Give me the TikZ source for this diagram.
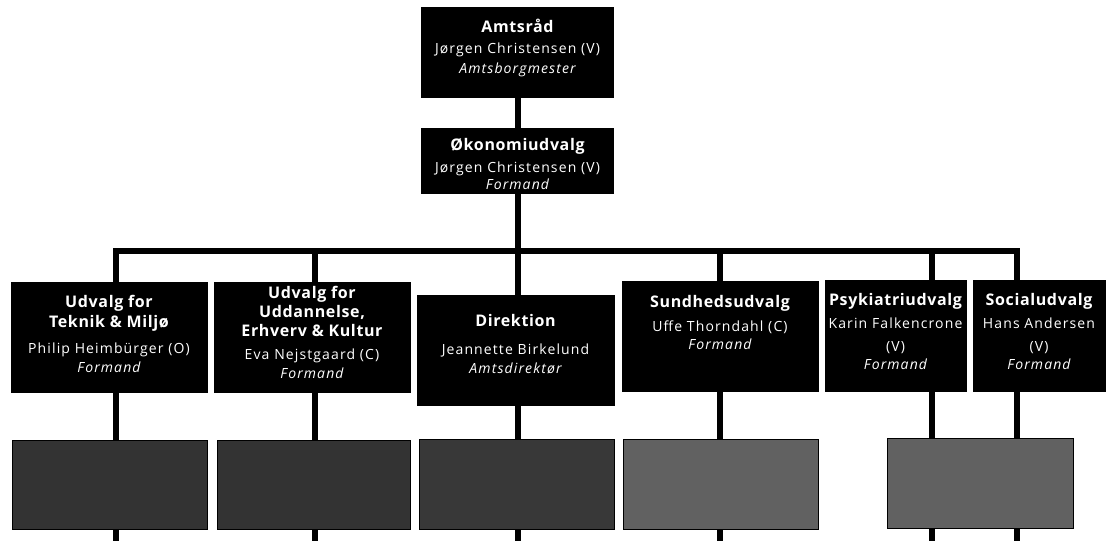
\documentclass[tikz,border=0pt]{standalone}
\usepackage{fontspec}
\setmainfont{Open Sans}
\newfontfamily\bodyfont{Open Sans}[LetterSpace=8]
\newfontfamily\headfont{Open Sans}[LetterSpace=4]
\newcommand\hd[1]{{\headfont\bfseries\fontsize{16}{20}\selectfont #1}}
\newcommand\nm[1]{{\bodyfont\fontsize{14}{20}\selectfont #1}}
\newcommand\ti[1]{{\bodyfont\itshape\fontsize{14}{20}\selectfont #1}}
\newcommand\orgtext[4]{\parbox[c][#2][t]{#1}{\centering\fontsize{14}{20}\selectfont\vspace*{#3}#4\par}}
\tikzset{
  box/.style={fill=black, draw=black, inner sep=0pt, text=white},
  grainy/.style={fill=black!#1, draw=black, line width=1pt, inner sep=0pt},
  conn/.style={line width=6pt, draw=black, line join=miter},
}
\begin{document}
\begin{tikzpicture}[x=1pt,y=-1pt]
\useasboundingbox (0,0) rectangle (1109,541);
% top boxes
\node[box] (a) at (517.5,52) {\orgtext{192pt}{90pt}{12pt}{\hd{Amtsråd}\\[1pt]\nm{Jørgen Christensen (V)}\\[0pt]\ti{Amtsborgmester}}};
\node[box] (ok) at (517.5,160.5) {\orgtext{192pt}{65pt}{10pt}{\hd{Økonomiudvalg}\\[2pt]\nm{Jørgen Christensen (V)}\\[-3pt]\ti{Formand}}};
% row 2
\node[box] (b1) at (109,337) {\orgtext{196pt}{110pt}{13pt}{\hd{Udvalg for}\\\hd{Teknik \& Miljø}\\[6pt]\nm{Philip Heimbürger (O)}\\[-1pt]\ti{Formand}}};
\node[box] (b2) at (312,337) {\orgtext{196pt}{110pt}{4pt}{\hd{Udvalg for}\\[-1pt]\hd{Uddannelse,}\\[-1pt]\hd{Erhverv \& Kultur}\\[3pt]\nm{Eva Nejstgaard (C)}\\[-1pt]\ti{Formand}}};
\node[box] (b3) at (515.5,350) {\orgtext{197pt}{110pt}{19pt}{\hd{Direktion}\\[8pt]\nm{Jeannette Birkelund}\\[-1pt]\ti{Amtsdirektør}}};
\node[box] (b4) at (720,336) {\orgtext{196pt}{110pt}{14pt}{\hd{Sundhedsudvalg}\\[4pt]\nm{Uffe Thorndahl (C)}\\[-2pt]\ti{Formand}}};
\node[box] (b5) at (895.5,335.5) {\orgtext{141pt}{111pt}{13pt}{\hd{Psykiatriudvalg}\\[3pt]\nm{Karin Falkencrone}\\[3pt]\nm{(V)}\\[-2pt]\ti{Formand}}};
\node[box] (b6) at (1039,335.5) {\orgtext{132pt}{111pt}{13pt}{\hd{Socialudvalg}\\[3pt]\nm{Hans Andersen}\\[3pt]\nm{(V)}\\[-2pt]\ti{Formand}}};
% row 3
\node[grainy=80, minimum width=195pt, minimum height=89pt] (c1) at (109.5,484.5) {};
\node[grainy=80, minimum width=193pt, minimum height=89pt] (c2) at (313.5,484.5) {};
\node[grainy=78, minimum width=195pt, minimum height=90pt] (c3) at (516.5,484) {};
\node[grainy=62, minimum width=195pt, minimum height=90pt] (c4) at (720.5,484) {};
\node[grainy=62, minimum width=186pt, minimum height=90pt] (c5) at (980,483) {};
% junctions
\coordinate (j1) at (116,251);
\coordinate (j2) at (315,251);
\coordinate (j3) at (517.5,251);
\coordinate (j4) at (720,251);
\coordinate (j5) at (932,251);
\coordinate (j6) at (1017,251);
\coordinate (e1) at (116,541);
\coordinate (e2) at (315,541);
\coordinate (e3) at (517.5,541);
\coordinate (e4) at (720,541);
\coordinate (e5) at (932,541);
\coordinate (e6) at (1017,541);
% connectors
\draw[conn] (a.south) -- (ok.north);
\draw[conn] (j1 |- b1.north) -- (j1) -- (j6) -- (j6 |- b6.north);
\draw[conn] (ok.south) -- (j3) -- (j3 |- b3.north);
\draw[conn] (j2) -- (j2 |- b2.north);
\draw[conn] (j4) -- (j4 |- b4.north);
\draw[conn] (j5) -- (j5 |- b5.north);
\draw[conn] (j1 |- b1.south) -- (j1 |- c1.north);
\draw[conn] (j2 |- b2.south) -- (j2 |- c2.north);
\draw[conn] (j3 |- b3.south) -- (j3 |- c3.north);
\draw[conn] (j4 |- b4.south) -- (j4 |- c4.north);
\draw[conn] (j5 |- b5.south) -- (j5 |- c5.north);
\draw[conn] (j6 |- b6.south) -- (j6 |- c5.north);
\draw[conn] (j1 |- c1.south) -- (e1);
\draw[conn] (j2 |- c2.south) -- (e2);
\draw[conn] (j3 |- c3.south) -- (e3);
\draw[conn] (j4 |- c4.south) -- (e4);
\draw[conn] (j5 |- c5.south) -- (e5);
\draw[conn] (j6 |- c5.south) -- (e6);
\end{tikzpicture}
\end{document}
